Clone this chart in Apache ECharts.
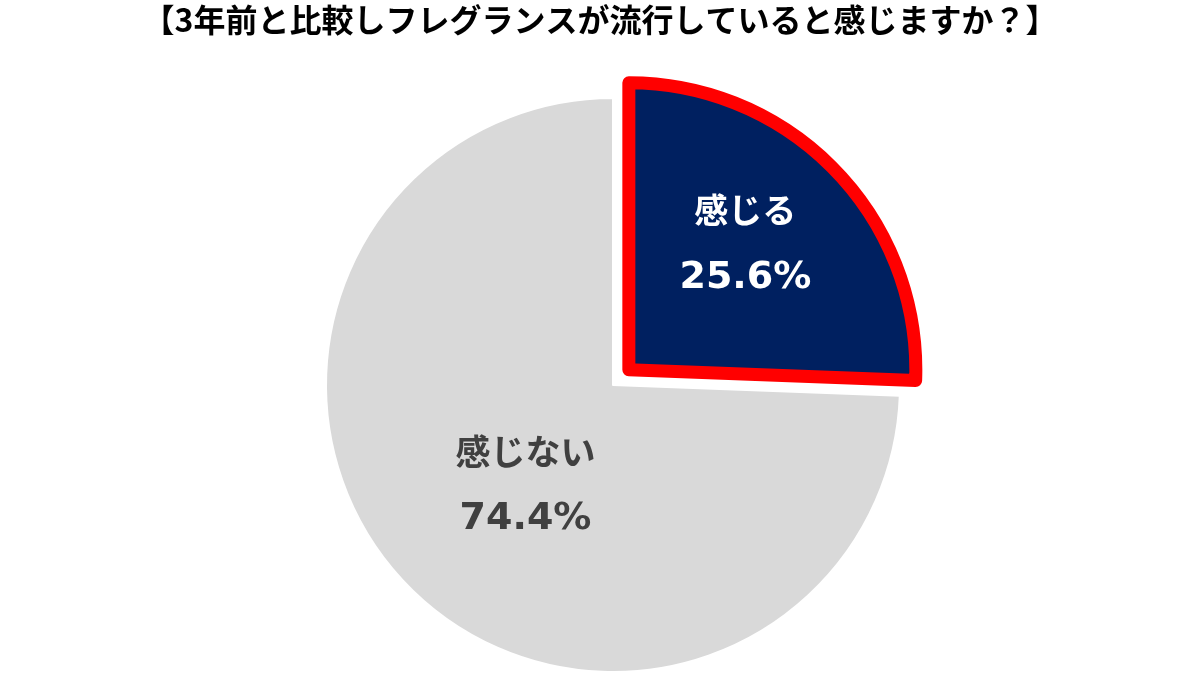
<!DOCTYPE html>
<html>
<head>
<meta charset="utf-8">
<script src="https://cdn.jsdelivr.net/npm/echarts@6/dist/echarts.min.js"></script>
<style>
html,body{margin:0;padding:0;background:#fff;}
#main{width:1200px;height:675px;}
</style>
</head>
<body>
<div id="main"></div>
<script>
const titleText = '【3年前と比較しフレグランスが流行していると感じますか？】';
const categories = ['感じる', '感じない'];
const values = [25.6, 74.4];

const chart = echarts.init(document.getElementById('main'), null, {renderer: 'canvas'});
const option = {
  animation: false,
  backgroundColor: '#ffffff',
  title: {
    text: titleText,
    left: 'center',
    top: -1,
    textStyle: {
      fontFamily: '"Noto Sans CJK JP", sans-serif',
      fontWeight: 'bold',
      fontSize: 32,
      color: '#000000'
    }
  },
  series: [{
    type: 'pie',
    center: [613, 385],
    radius: [0, 287],
    startAngle: 90,
    clockwise: true,
    selectedMode: 'single',
    selectedOffset: 22,
    silent: true,
    labelLine: {show: false},
    data: [
      {
        name: categories[0], value: values[0], selected: true,
        itemStyle: {color: '#002060', borderColor: '#ff0000', borderWidth: 13, borderJoin: 'round'},
        label: {
          show: true, position: 'inside', padding: [0, 0, 48, 22],
          formatter: p => '{n|' + p.name + '}\n{v|' + p.value.toFixed(1) + '%}',
          rich: {
            n: {fontFamily: '"Noto Sans CJK JP", sans-serif', fontWeight: 'bold', fontSize: 34, color: '#ffffff', lineHeight: 68, align: 'center'},
            v: {fontFamily: '"DejaVu Sans", sans-serif', fontWeight: 'bold', fontSize: 38, color: '#ffffff', lineHeight: 68, align: 'center'}
          }
        }
      },
      {
        name: categories[1], value: values[1],
        itemStyle: {color: '#d9d9d9', borderColor: '#ffffff', borderWidth: 2},
        label: {
          show: true, position: 'inside', padding: [0, 0, 2, 36],
          formatter: p => '{n|' + p.name + '}\n{v|' + p.value.toFixed(1) + '%}',
          rich: {
            n: {fontFamily: '"Noto Sans CJK JP", sans-serif', fontWeight: 'bold', fontSize: 35, color: '#404040', lineHeight: 68, align: 'center'},
            v: {fontFamily: '"DejaVu Sans", sans-serif', fontWeight: 'bold', fontSize: 38, color: '#404040', lineHeight: 68, align: 'center'}
          }
        }
      }
    ]
  }]
};
chart.setOption(option);
</script>
</body>
</html>
